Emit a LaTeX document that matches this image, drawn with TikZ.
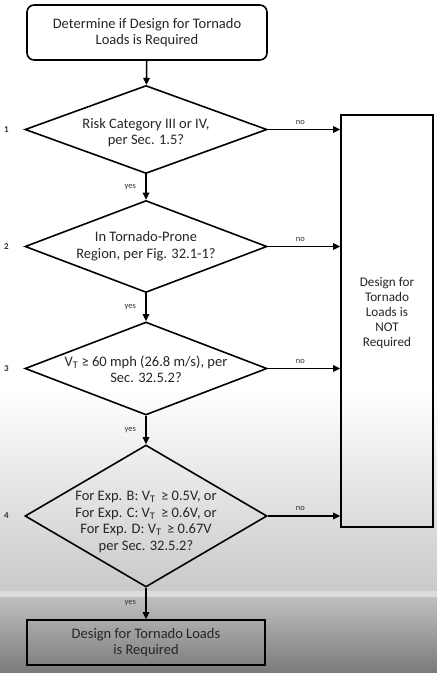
\documentclass[tikz,border=0pt]{standalone}
\usepackage{fontspec}
\setmainfont{Carlito}
\usepackage{tikz}
\usetikzlibrary{positioning, shapes.geometric, arrows.meta}
\tikzstyle{chart} = [x = 1pt, y = -1pt]
\tikzstyle{boxText} = [font=\fontsize{14.5}{16.6}\selectfont, align=center, text=black!85]
\tikzstyle{startStyle} = [boxText, draw, line width=1.6pt, rounded corners = .25cm, minimum width=240pt, minimum height=55pt]
\tikzstyle{endStyle} = [boxText, draw, line width=1.6pt, minimum width=238pt, minimum height=45pt]
\tikzstyle{questionStyle} = [boxText, draw, diamond, line width=1.6pt, inner xsep=-14pt, inner ysep=-10pt, minimum width=242pt]
\tikzstyle{arrowStyle} = [line width=1.6pt, -{Triangle[length=7pt, width=6.5pt]}]
\tikzstyle{answerText} = [font=\fontsize{8.5}{10}\selectfont, text=black!80]
\tikzstyle{stepNumber} = [font=\fontsize{9}{10}\selectfont\bfseries, text=black!80]
\newcommand{\shiftText}[2]{\raisebox{#1}[\height][\depth]{\begin{tabular}{@{}c@{}}#2\end{tabular}}}
\newcommand{\yesArrow}[2]{\draw [arrowStyle] (#1.south) -- (#2.north) node [answerText, midway, left = 6pt] {yes};}
\newcommand{\noArrow}[1]{\draw [arrowStyle] (#1.east) -- (#1.east -| notRequired.west) node [answerText, pos = .45, above = 1pt] {no};}
\begin{document}
\begin{tikzpicture}[chart]
  \useasboundingbox (0,0) rectangle (437,673);
  % screenshot background
  \fill [white] (0,0) rectangle (437,673);
  \shade [top color=white, bottom color=black!21] (0,388) rectangle (437,591);
  \fill [black!14] (0,591) rectangle (437,597);
  \shade [top color=black!25, bottom color=black!52] (0,597) rectangle (437,673);

  \node [startStyle] (start) at (147,32.5) {Determine if Design for Tornado\\Loads is Required};
  \node [questionStyle, aspect=2.75, minimum height=88pt] (riskCategory) at (146,129.5) {\shiftText{-3.5pt}{Risk Category III or IV,\\per Sec. 1.5?}};
  \node [questionStyle, aspect=2.7, minimum height=92pt] (proneRegion) at (146,246.5) {In Tornado-Prone\\Region, per Fig. 32.1-1?};
  \node [questionStyle, aspect=2.65, minimum height=93pt] (windSpeed) at (146,368.5) {\shiftText{-2.5pt}{V\textsubscript{T} ≥ 60 mph (26.8 m/s), per\\Sec. 32.5.2?}};
  \node [questionStyle, aspect=1.75, inner xsep=-24pt, inner ysep=-14pt, minimum height=142pt] (exposure) at (146,516) {\shiftText{-6pt}{For Exp. B: V\textsubscript{T} \,≥ 0.5V, or\\For Exp. C: V\textsubscript{T} \,≥ 0.6V, or\\For Exp. D: V\textsubscript{T} \,≥ 0.67V\\per Sec. 32.5.2?}};
  \node [endStyle] (required) at (146,642.5) {Design for Tornado Loads\\is Required};
  \node [boxText, draw, line width=1.6pt, font=\fontsize{13.2}{15}\selectfont, minimum width=92pt, minimum height=412pt] (notRequired) at (387,321) {\shiftText{8pt}{Design for\\Tornado\\Loads is\\NOT\\Required}};

  \node [stepNumber, left = 12pt of riskCategory.west] (stepOne) {1};
  \node [stepNumber, left = 12pt of proneRegion.west] (stepTwo) {2};
  \node [stepNumber, left = 12pt of windSpeed.west] (stepThree) {3};
  \node [stepNumber, left = 12pt of exposure.west] (stepFour) {4};

  \draw [arrowStyle] (start) -- (riskCategory);
  \yesArrow{riskCategory}{proneRegion}
  \yesArrow{proneRegion}{windSpeed}
  \yesArrow{windSpeed}{exposure}
  \yesArrow{exposure}{required}
  \noArrow{riskCategory}
  \noArrow{proneRegion}
  \noArrow{windSpeed}
  \noArrow{exposure}
\end{tikzpicture}
\end{document}
